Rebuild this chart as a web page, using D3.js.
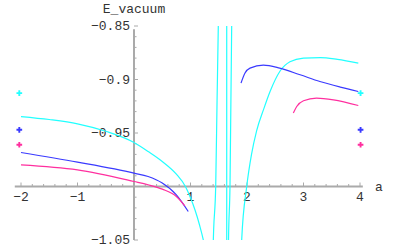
<!DOCTYPE html>
<html>
<head>
<meta charset="utf-8">
<script src="https://cdn.jsdelivr.net/npm/d3@7"></script>
<style>
  body { margin: 0; background: #fff; }
  text { font-family: "Liberation Mono", "DejaVu Sans Mono", monospace; fill: #333; }
</style>
</head>
<body>
<svg id="chart" width="400" height="247"></svg>
<script>
// branches, [a, E]
var cyanLeft = [[-2,-0.9346],[-1.5,-0.9374],[-1,-0.9414],[-0.5,-0.9484],[0,-0.9589],[0.25,-0.9673],
                [0.5,-0.9766],[0.75,-0.9885],[0.91,-1.0],[1.0,-1.0105],[1.08,-1.022],[1.16,-1.036],
                [1.227,-1.05],[1.25,-1.056]];
var cyanPole1 = [[1.398,-1.06],[1.41,-1.04],[1.446,-1.0],[1.47,-0.92],[1.492,-0.85],[1.497,-0.83]];
var cyanPole2 = [[1.641,-0.83],[1.641,-1.07]];
var cyanPole3 = [[1.668,-1.07],[1.673,-1.05],[1.699,-1.0],[1.729,-0.85],[1.735,-0.83]];
var cyanRight = [[1.89,-1.07],[1.906,-1.05],[1.995,-1.0],[2.08,-0.97],[2.17,-0.948],[2.30,-0.927],[2.41,-0.911],
                 [2.58,-0.8925],[2.76,-0.8835],[3.0,-0.880],[3.3,-0.8795],[3.6,-0.8812],[3.97,-0.8847]];
var blueLeft = [[-2,-0.9682],[-1,-0.9772],[0,-0.9875],[0.25,-0.9907],[0.5,-0.9968],[0.75,-1.0078],[0.96,-1.0234]];
var blueRight = [[1.894,-0.9034],[1.965,-0.894],[2.053,-0.8894],[2.29,-0.8865],[2.58,-0.8894],[2.94,-0.8956],
                 [3.29,-0.9019],[3.65,-0.9071],[3.97,-0.9112]];
var pinkLeft = [[-2,-0.9797],[-1,-0.9844],[0,-0.9953],[0.25,-0.9984],[0.5,-1.0025],[0.75,-1.0093],[0.9,-1.018]];
var pinkRight = [[2.82,-0.9314],[2.88,-0.9252],[3.0,-0.9199],[3.23,-0.9174],[3.53,-0.919],[3.97,-0.9243]];

// limit markers at both ends
var markerA = [-2.03, 4.01];
var markerE = { cyan: -0.9127, blue: -0.947, pink: -0.961 };

var xTicks = [-2, -1, 1, 2, 3, 4];
var yTicks = [-0.85, -0.9, -0.95, -1.05];

var colors = { cyan: "#22ffff", blue: "#3a3aff", pink: "#ff2f9f" };

var svg = d3.select("#chart");
var x = d3.scaleLinear().domain([-2, 4]).range([21, 360]);
var y = d3.scaleLinear().domain([-1.05, -0.85]).range([240, 26]);

svg.append("clipPath").attr("id", "clip")
  .append("rect")
  .attr("x", 0).attr("y", y(-0.85)).attr("width", 400).attr("height", y(-1.05) - y(-0.85));

var axisColor = "#aaa";
var x0 = x(0), y0 = y(-1);

// x axis
svg.append("line")
  .attr("x1", x(-2.11)).attr("x2", x(4.05)).attr("y1", y0).attr("y2", y0)
  .attr("stroke", axisColor).attr("stroke-width", 2);
// y axis
svg.append("line")
  .attr("x1", x0).attr("x2", x0).attr("y1", y(-0.853)).attr("y2", y(-1.05))
  .attr("stroke", axisColor).attr("stroke-width", 2);

// minor ticks
var xMinor = d3.range(-2, 4.01, 0.2).map(function (d) { return Math.round(d * 10) / 10; });
svg.selectAll(".xminor").data(xMinor).enter().append("line")
  .attr("x1", function (d) { return x(d); }).attr("x2", function (d) { return x(d); })
  .attr("y1", y0).attr("y2", function (d) { return Number.isInteger(d) ? y0 - 4 : y0 - 2.5; })
  .attr("stroke", axisColor).attr("stroke-width", 1);

var yMinor = d3.range(-1.05, -0.849, 0.01).map(function (d) { return Math.round(d * 100) / 100; });
svg.selectAll(".yminor").data(yMinor).enter().append("line")
  .attr("y1", function (d) { return y(d); }).attr("y2", function (d) { return y(d); })
  .attr("x1", x0).attr("x2", function (d) { return Math.round(d * 100) % 5 === 0 ? x0 + 4 : x0 + 2.5; })
  .attr("stroke", axisColor).attr("stroke-width", 1);

function fmt(v) { return String(v).replace("-", "\u2212"); }

svg.selectAll(".xlab").data(xTicks).enter().append("text")
  .attr("x", function (d) { return x(d); }).attr("y", y0 + 14)
  .attr("text-anchor", "middle").attr("font-size", 13)
  .text(fmt);

svg.selectAll(".ylab").data(yTicks).enter().append("text")
  .attr("x", x0 - 4).attr("y", function (d) { return y(d) + 4; })
  .attr("text-anchor", "end").attr("font-size", 13)
  .text(fmt);

svg.append("text").attr("x", 375).attr("y", y0 + 4).attr("font-size", 13).text("a");
svg.append("text").attr("x", x0).attr("y", 13).attr("text-anchor", "middle").attr("font-size", 13).text("E_vacuum");

// curves
var smooth = d3.line()
  .x(function (d) { return x(d[0]); })
  .y(function (d) { return y(d[1]); })
  .curve(d3.curveMonotoneX);
var straight = d3.line()
  .x(function (d) { return x(d[0]); })
  .y(function (d) { return y(d[1]); });

var g = svg.append("g").attr("clip-path", "url(#clip)");
var series = [
  [cyanLeft, "cyan", smooth], [cyanPole1, "cyan", smooth], [cyanPole2, "cyan", straight],
  [cyanPole3, "cyan", smooth], [cyanRight, "cyan", smooth],
  [blueLeft, "blue", smooth], [blueRight, "blue", smooth], [pinkLeft, "pink", smooth], [pinkRight, "pink", smooth]
];
series.forEach(function (s) {
  g.append("path")
    .attr("d", s[2](s[0]))
    .attr("fill", "none")
    .attr("stroke", colors[s[1]])
    .attr("stroke-width", 1.2);
});

// end markers
var sym = d3.symbol().type(d3.symbolCross).size(18);
["cyan", "blue", "pink"].forEach(function (c) {
  markerA.forEach(function (a) {
    svg.append("path")
      .attr("d", sym())
      .attr("transform", "translate(" + x(a) + "," + y(markerE[c]) + ")")
      .attr("fill", colors[c]);
  });
});
</script>
</body>
</html>
